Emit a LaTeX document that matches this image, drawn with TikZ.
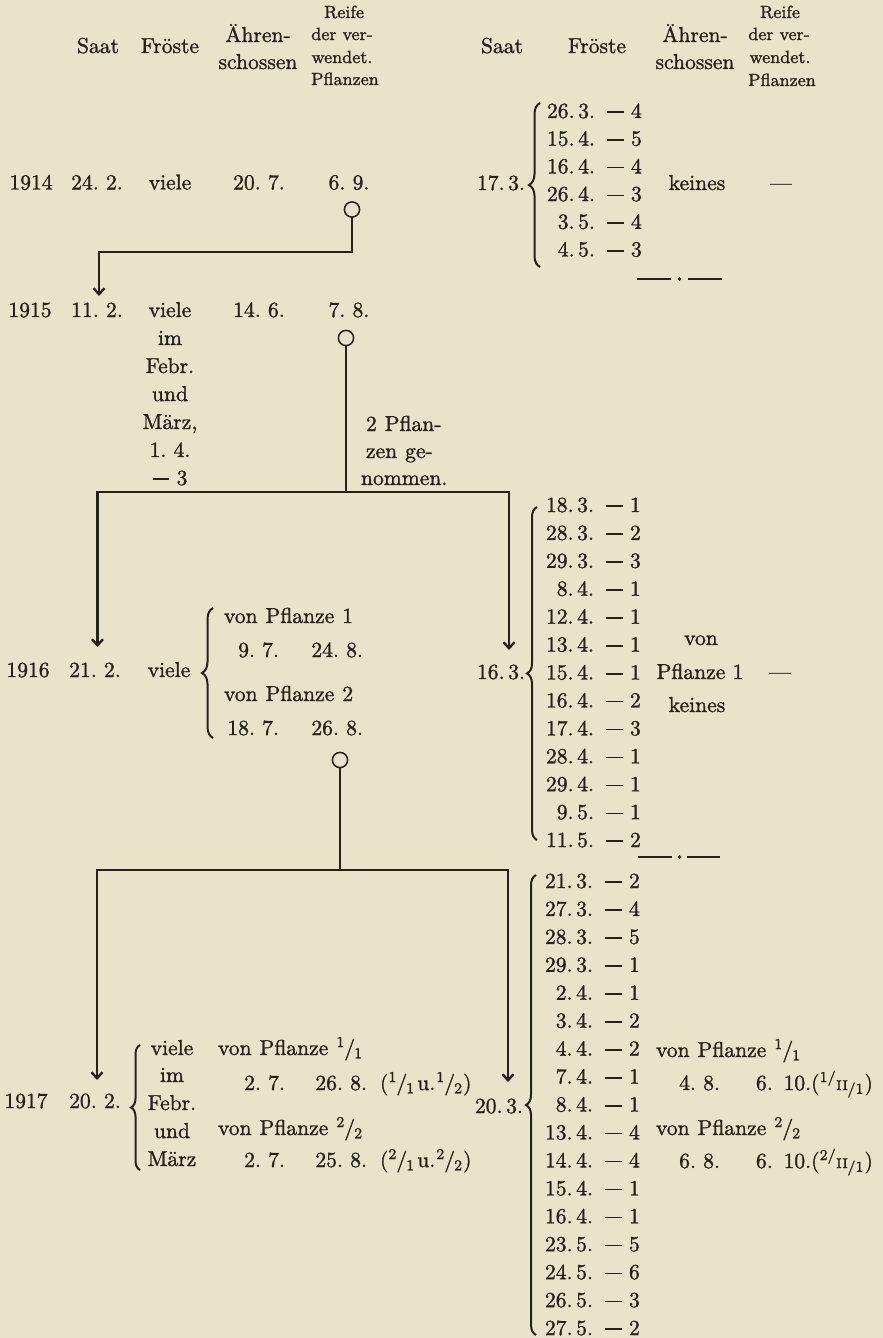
\documentclass[tikz,border=0pt]{standalone}
\usepackage{fontspec}
\usetikzlibrary{arrows.meta,decorations.pathreplacing}
\newfontfamily\inkfont{Latin Modern Roman}[FakeBold=1.3,Ligatures=TeX]
\definecolor{bg}{HTML}{E9E4C9}
\definecolor{ink}{HTML}{26211B}
\newcommand\mfont{\inkfont\fontsize{10.8}{13}\selectfont}
\newcommand\hfont{\inkfont\fontsize{8.8}{10}\selectfont}
\newcommand\md{\rule[2.5pt]{8.4pt}{0.8pt}}
\newcommand\mdv[1]{\md\hspace{3.6pt}#1}
\newcommand\dt[2]{#1.\kern1.8pt#2.}
\newcommand\fr[2]{\textsuperscript{#1}\kern-.5pt/\kern-.5pt\textsubscript{#2}}
\newcommand\frII[1]{(\textsuperscript{#1/}\kern-.3pt{\scriptsize II}\kern-.3pt\textsubscript{/1})}
\begin{document}
\begin{tikzpicture}[x=0.5pt,y=-0.5pt,
  t/.style={anchor=base,inner sep=0pt,outer sep=0pt,text=ink,font=\mfont},
  tr/.style={t,anchor=base east},
  tl/.style={t,anchor=base west},
  hd/.style={t,font=\hfont},
  ln/.style={draw=ink,line width=1.2pt},
  >={Straight Barb[length=3pt,width=5.5pt]},
  knob/.style={circle,draw=ink,line width=0.75pt,minimum size=7.6pt,inner sep=0pt,outer sep=0pt},
  brc/.style={draw=ink,line width=1pt,decorate,decoration={brace,amplitude=#1}},
  sep/.style={draw=ink,line width=1.3pt}
]
\fill[bg] (0,0) rectangle (883,1338);
\useasboundingbox (0,0) rectangle (883,1338);

% ---------- headers left
\node[t] (hSaatL) at (98,53) {Saat};
\node[t] (hFrL) at (170,53) {Fröste};
\node[t] (hAeL1) at (258,42) {Ähren-};
\node[t] (hAeL2) at (258,69) {schossen};
\node[hd] (hReL1) at (344,18) {Reife};
\node[hd] (hReL2) at (342,40) {der ver-};
\node[hd] (hReL3) at (342,63) {wendet.};
\node[hd] (hReL4) at (345,85) {Pflanzen};
% ---------- headers right
\node[t] (hSaatR) at (502,53) {Saat};
\node[t] (hFrR) at (597,53) {Fröste};
\node[t] (hAeR1) at (695,42) {Ähren-};
\node[t] (hAeR2) at (695,69) {schossen};
\node[hd] (hReR1) at (780,18) {Reife};
\node[hd] (hReR2) at (779,40) {der ver-};
\node[hd] (hReR3) at (780,63) {wendet.};
\node[hd] (hReR4) at (782,86) {Pflanzen};

% ---------- 1914
\node[t] (y14) at (31,189.5) {1914};
\node[t] (s14) at (97,189.5) {24.\ 2.};
\node[t] (f14) at (170,189.5) {viele};
\node[t] (a14) at (259,189.5) {20.\ 7.};
\node[t] (r14) at (349,189.5) {6.\ 9.};
\node[knob] (c14) at (352,209.5) {};

\node[tr] (s14b) at (525,190) {\dt{17}{3}};
\draw[brc=5.5pt] (540,267) -- (540,103);
\foreach \da/\mo/\fv [count=\i from 0] in {26/3/4,15/4/5,16/4/4,26/4/3,3/5/4,4/5/3}{
  \node[tr] (fa\i) at (595,{118+27.7*\i}) {\dt{\da}{\mo}};
  \node[tl] (fb\i) at (607,{118+27.7*\i}) {\mdv{\fv}};
}
\node[t] (a14b) at (697,190) {keines};
\node[t] (r14b) at (781,190) {\textemdash};
\draw[sep] (637,279) -- (671,279);
\fill[ink] (679.5,279) circle (0.9pt);
\draw[sep] (688,279) -- (722,279);

% ---------- 1915
\node[t] (y15) at (30,317) {1915};
\node[t] (s15) at (97,317) {11.\ 2.};
\node[t] (f15) at (170,317) {viele};
\node[t] (f15b) at (170,345) {im};
\node[t] (f15c) at (170,373) {Febr.};
\node[t] (f15d) at (170,401) {und};
\node[t] (f15e) at (170,429) {März,};
\node[t] (f15f) at (170,457) {1.\ 4.};
\node[t] (f15g) at (170,485) {\mdv{3}};
\node[t] (a15) at (259,317) {14.\ 6.};
\node[t] (r15) at (349,317) {7.\ 8.};
\node[knob] (c15) at (346,338) {};
\node[tl] (p15a) at (366,431) {2\hspace{4pt}Pflan-};
\node[tl] (p15b) at (366,458) {zen\hspace{4pt}ge-};
\node[tl] (p15c) at (361,485) {nommen.};

% ---------- 1916
\node[t] (y16) at (28,677) {1916};
\node[t] (s16) at (95,677) {21.\ 2.};
\node[t] (f16) at (169,677) {viele};
\draw[brc=5.5pt] (213,738) -- (213,608);
\node[tl] (v16a) at (224,623) {von\hspace{4pt}Pflanze\hspace{4pt}1};
\node[tr] (a16a) at (279,657) {9.\ 7.};
\node[tr] (r16a) at (363,657) {24.\ 8.};
\node[tl] (v16b) at (224,701) {von\hspace{4pt}Pflanze\hspace{4pt}2};
\node[tr] (a16b) at (279,735) {18.\ 7.};
\node[tr] (r16b) at (363,735) {26.\ 8.};
\node[knob] (c16) at (340,760) {};

\node[tr] (s16b) at (525,679) {\dt{16}{3}};
\draw[brc=5pt] (537,840) -- (537,507);
\foreach \da/\mo/\fv [count=\i from 0] in {18/3/1,28/3/2,29/3/3,8/4/1,12/4/1,13/4/1,15/4/1,16/4/2,17/4/3,28/4/1,29/4/1,9/5/1,11/5/2}{
  \node[tr] (ga\i) at (594,{512+27.92*\i}) {\dt{\da}{\mo}};
  \node[tl] (gb\i) at (606,{512+27.92*\i}) {\mdv{\fv}};
}
\node[t] (v16c) at (701,645) {von};
\node[t] (v16d) at (700,679) {Pflanze 1};
\node[t] (v16e) at (697,712) {keines};
\node[t] (r16c) at (780,679) {\textemdash};
\draw[sep] (638,857) -- (672,857);
\fill[ink] (679.5,857) circle (0.9pt);
\draw[sep] (687,857) -- (720,857);

% ---------- 1917
\node[t] (y17) at (26,1108) {1917};
\node[t] (s17) at (95,1108) {20.\ 2.};
\draw[brc=4.5pt] (140,1170) -- (140,1045);
\node[t] (f17a) at (172,1055) {viele};
\node[t] (f17b) at (172,1082) {im};
\node[t] (f17c) at (172,1110) {Febr.};
\node[t] (f17d) at (172,1138) {und};
\node[t] (f17e) at (172,1166) {März};
\node[tl] (v17a) at (218,1055) {von\hspace{4pt}Pflanze\hspace{4pt}\fr11};
\node[tr] (a17a) at (285,1090) {2.\ 7.};
\node[tr] (r17a) at (367,1090) {26.\ 8.};
\node[tl] (n17a) at (380,1090) {(\fr11\kern1pt u.\kern.5pt\fr12)};
\node[tl] (v17b) at (218,1135) {von\hspace{4pt}Pflanze\hspace{4pt}\fr22};
\node[tr] (a17b) at (285,1167) {2.\ 7.};
\node[tr] (r17b) at (367,1167) {25.\ 8.};
\node[tl] (n17b) at (380,1167) {(\fr21\kern1pt u.\kern.5pt\fr22)};

\node[tr] (s17b) at (523,1113) {\dt{20}{3}};
\draw[brc=5pt] (536,1335) -- (536,875);
\foreach \da/\mo/\fv [count=\i from 0] in {21/3/2,27/3/4,28/3/5,29/3/1,2/4/1,3/4/2,4/4/2,7/4/1,8/4/1,13/4/4,14/4/4,15/4/1,16/4/1,23/5/5,24/5/6,26/5/3,27/5/2}{
  \node[tr] (ha\i) at (593,{888+27.94*\i}) {\dt{\da}{\mo}};
  \node[tl] (hb\i) at (605,{888+27.94*\i}) {\mdv{\fv}};
}
\node[tl] (v17c) at (656,1057) {von\hspace{4pt}Pflanze\hspace{4pt}\fr11};
\node[tr] (a17c) at (720,1090) {4.\ 8.};
\node[tl] (r17c) at (756,1090) {6.\ \,10.\frII1};
\node[tl] (v17d) at (656,1135) {von\hspace{4pt}Pflanze\hspace{4pt}\fr22};
\node[tr] (a17d) at (720,1168) {6.\ 8.};
\node[tl] (r17d) at (756,1168) {6.\ \,10.\frII2};

% ---------- connectors
\coordinate (k14) at (352,252);
\coordinate (j14) at (99,252);
\coordinate (t15) at (99,296);
\draw[ln,->] (c14.south) -- (k14) -- (j14) -- (t15);

\coordinate (k15) at (346,492);
\coordinate (jL15) at (97.5,492);
\coordinate (jR15) at (509,492);
\coordinate (tL16) at (97.5,647);
\coordinate (tR16) at (509,650);
\draw[ln] (c15.south) -- (k15);
\draw[ln,<->] (tL16) -- (jL15) -- (jR15) -- (tR16);

\coordinate (k16) at (340,870);
\coordinate (jL16) at (97,870);
\coordinate (jR16) at (508,870);
\coordinate (tL17) at (97,1080);
\coordinate (tR17) at (508,1082);
\draw[ln] (c16.south) -- (k16);
\draw[ln,<->] (tL17) -- (jL16) -- (jR16) -- (tR17);
\end{tikzpicture}
\end{document}
